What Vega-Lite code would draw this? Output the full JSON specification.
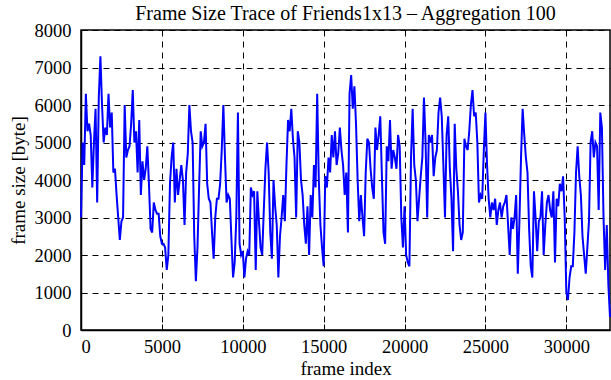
{
  "$schema": "https://vega.github.io/schema/vega-lite/v6.json",
  "width": 529,
  "height": 300,
  "autosize": {"type": "none"},
  "padding": {"left": 81, "top": 30, "right": 1, "bottom": 50},
  "background": "white",
  "title": {"text": "Frame Size Trace of Friends1x13 – Aggregation 100", "font": "Liberation Serif", "fontSize": 20, "fontWeight": "normal", "color": "black", "offset": -3, "frame": "group"},
  "config": {
    "view": {"stroke": "black", "strokeWidth": 1.5},
    "axis": {
      "grid": true, "gridColor": "black", "gridDash": [6, 5], "gridWidth": 1, "gridOpacity": 1,
      "domainColor": "black", "domainWidth": 1.5,
      "tickColor": "black", "tickSize": -6, "tickWidth": 1,
      "labelFont": "Liberation Serif", "labelFontSize": 18.5, "labelColor": "black",
      "titleFont": "Liberation Serif", "titleFontSize": 19, "titleFontWeight": "normal", "titleColor": "black"
    }
  },
  "data": {"values": [
    {"frame":0,"size":3000},{"frame":100,"size":5000},{"frame":200,"size":4400},{"frame":300,"size":6300},{"frame":400,"size":5300},{"frame":500,"size":5500},{"frame":600,"size":5200},{"frame":700,"size":3800},{"frame":800,"size":5000},{"frame":900,"size":5900},
    {"frame":1000,"size":3400},{"frame":1100,"size":6200},{"frame":1200,"size":7300},{"frame":1300,"size":6000},{"frame":1400,"size":5000},{"frame":1500,"size":5400},{"frame":1600,"size":5200},{"frame":1700,"size":6300},{"frame":1800,"size":5400},{"frame":1900,"size":5800},
    {"frame":2000,"size":4200},{"frame":2100,"size":4300},{"frame":2200,"size":3600},{"frame":2300,"size":3000},{"frame":2400,"size":2400},{"frame":2500,"size":2900},{"frame":2600,"size":3000},{"frame":2700,"size":6000},{"frame":2800,"size":4600},{"frame":2900,"size":4800},
    {"frame":3000,"size":4900},{"frame":3100,"size":5500},{"frame":3200,"size":6400},{"frame":3300,"size":5000},{"frame":3400,"size":5300},{"frame":3500,"size":4200},{"frame":3600,"size":5600},{"frame":3700,"size":3600},{"frame":3800,"size":4500},{"frame":3900,"size":4000},
    {"frame":4000,"size":4300},{"frame":4100,"size":4900},{"frame":4200,"size":3900},{"frame":4300,"size":2700},{"frame":4400,"size":2600},{"frame":4500,"size":3400},{"frame":4600,"size":3200},{"frame":4700,"size":3100},{"frame":4800,"size":3100},{"frame":4900,"size":2500},
    {"frame":5000,"size":2300},{"frame":5100,"size":2300},{"frame":5200,"size":2200},{"frame":5300,"size":1600},{"frame":5400,"size":2000},{"frame":5500,"size":3900},{"frame":5600,"size":4600},{"frame":5700,"size":5000},{"frame":5800,"size":3400},{"frame":5900,"size":4300},
    {"frame":6000,"size":3600},{"frame":6100,"size":4000},{"frame":6200,"size":4400},{"frame":6300,"size":4000},{"frame":6400,"size":2800},{"frame":6500,"size":4200},{"frame":6600,"size":4700},{"frame":6700,"size":6000},{"frame":6800,"size":5300},{"frame":6900,"size":5000},
    {"frame":7000,"size":2500},{"frame":7100,"size":1300},{"frame":7200,"size":2200},{"frame":7300,"size":3800},{"frame":7400,"size":5300},{"frame":7500,"size":4900},{"frame":7600,"size":5000},{"frame":7700,"size":5500},{"frame":7800,"size":3900},{"frame":7900,"size":3500},
    {"frame":8000,"size":3400},{"frame":8100,"size":2600},{"frame":8200,"size":1900},{"frame":8300,"size":3000},{"frame":8400,"size":3500},{"frame":8500,"size":3500},{"frame":8600,"size":3900},{"frame":8700,"size":4800},{"frame":8800,"size":6000},{"frame":8900,"size":4600},
    {"frame":9000,"size":3400},{"frame":9100,"size":3600},{"frame":9200,"size":3500},{"frame":9300,"size":2400},{"frame":9400,"size":1400},{"frame":9500,"size":1800},{"frame":9600,"size":3000},{"frame":9700,"size":5800},{"frame":9800,"size":2300},{"frame":9900,"size":2000},
    {"frame":10000,"size":2100},{"frame":10100,"size":1400},{"frame":10200,"size":1900},{"frame":10300,"size":2100},{"frame":10400,"size":2000},{"frame":10500,"size":3800},{"frame":10600,"size":3600},{"frame":10700,"size":3700},{"frame":10800,"size":1600},{"frame":10900,"size":3700},
    {"frame":11000,"size":2900},{"frame":11100,"size":2200},{"frame":11200,"size":2000},{"frame":11300,"size":3200},{"frame":11400,"size":4300},{"frame":11500,"size":5000},{"frame":11600,"size":4200},{"frame":11700,"size":2600},{"frame":11800,"size":1900},{"frame":11900,"size":4000},
    {"frame":12000,"size":3300},{"frame":12100,"size":2800},{"frame":12200,"size":1400},{"frame":12300,"size":2500},{"frame":12400,"size":3000},{"frame":12500,"size":3600},{"frame":12600,"size":2900},{"frame":12700,"size":4400},{"frame":12800,"size":5600},{"frame":12900,"size":5300},
    {"frame":13000,"size":5900},{"frame":13100,"size":5100},{"frame":13200,"size":4600},{"frame":13300,"size":3000},{"frame":13400,"size":5300},{"frame":13500,"size":5000},{"frame":13600,"size":4000},{"frame":13700,"size":3600},{"frame":13800,"size":2800},{"frame":13900,"size":2300},
    {"frame":14000,"size":3300},{"frame":14100,"size":2000},{"frame":14200,"size":3600},{"frame":14300,"size":3000},{"frame":14400,"size":4400},{"frame":14500,"size":3800},{"frame":14600,"size":6300},{"frame":14700,"size":4000},{"frame":14800,"size":2800},{"frame":14900,"size":2200},
    {"frame":15000,"size":1700},{"frame":15100,"size":4100},{"frame":15200,"size":3800},{"frame":15300,"size":4600},{"frame":15400,"size":4200},{"frame":15500,"size":5200},{"frame":15600,"size":4600},{"frame":15700,"size":5300},{"frame":15800,"size":4400},{"frame":15900,"size":4700},
    {"frame":16000,"size":5400},{"frame":16100,"size":4800},{"frame":16200,"size":4400},{"frame":16300,"size":3600},{"frame":16400,"size":4200},{"frame":16500,"size":2600},{"frame":16600,"size":6300},{"frame":16700,"size":6800},{"frame":16800,"size":5900},{"frame":16900,"size":6500},
    {"frame":17000,"size":5500},{"frame":17100,"size":4000},{"frame":17200,"size":2900},{"frame":17300,"size":3600},{"frame":17400,"size":3000},{"frame":17500,"size":2500},{"frame":17600,"size":4200},{"frame":17700,"size":5100},{"frame":17800,"size":5000},{"frame":17900,"size":4300},
    {"frame":18000,"size":3800},{"frame":18100,"size":3500},{"frame":18200,"size":5400},{"frame":18300,"size":4800},{"frame":18400,"size":5200},{"frame":18500,"size":5700},{"frame":18600,"size":4100},{"frame":18700,"size":2600},{"frame":18800,"size":2300},{"frame":18900,"size":4900},
    {"frame":19000,"size":4500},{"frame":19100,"size":5600},{"frame":19200,"size":4300},{"frame":19300,"size":4800},{"frame":19400,"size":4600},{"frame":19500,"size":4300},{"frame":19600,"size":5200},{"frame":19700,"size":4900},{"frame":19800,"size":3000},{"frame":19900,"size":2200},
    {"frame":20000,"size":3300},{"frame":20100,"size":2000},{"frame":20200,"size":1800},{"frame":20300,"size":1700},{"frame":20400,"size":4600},{"frame":20500,"size":5900},{"frame":20600,"size":4400},{"frame":20700,"size":4000},{"frame":20800,"size":2900},{"frame":20900,"size":3500},
    {"frame":21000,"size":4100},{"frame":21100,"size":4600},{"frame":21200,"size":6200},{"frame":21300,"size":5000},{"frame":21400,"size":3000},{"frame":21500,"size":5200},{"frame":21600,"size":5000},{"frame":21700,"size":5200},{"frame":21800,"size":4100},{"frame":21900,"size":4600},
    {"frame":22000,"size":4800},{"frame":22100,"size":5800},{"frame":22200,"size":6200},{"frame":22300,"size":5700},{"frame":22400,"size":4400},{"frame":22500,"size":3000},{"frame":22600,"size":5200},{"frame":22700,"size":5700},{"frame":22800,"size":4300},{"frame":22900,"size":3500},
    {"frame":23000,"size":2100},{"frame":23100,"size":5500},{"frame":23200,"size":4300},{"frame":23300,"size":3700},{"frame":23400,"size":2800},{"frame":23500,"size":2400},{"frame":23600,"size":2600},{"frame":23700,"size":5100},{"frame":23800,"size":4900},{"frame":23900,"size":4800},
    {"frame":24000,"size":5300},{"frame":24100,"size":6000},{"frame":24200,"size":6400},{"frame":24300,"size":5700},{"frame":24400,"size":5800},{"frame":24500,"size":5000},{"frame":24600,"size":3400},{"frame":24700,"size":3600},{"frame":24800,"size":3500},{"frame":24900,"size":4800},
    {"frame":25000,"size":5800},{"frame":25100,"size":4400},{"frame":25200,"size":3500},{"frame":25300,"size":3000},{"frame":25400,"size":3400},{"frame":25500,"size":3200},{"frame":25600,"size":3500},{"frame":25700,"size":2800},{"frame":25800,"size":3200},{"frame":25900,"size":3400},
    {"frame":26000,"size":3000},{"frame":26100,"size":3300},{"frame":26200,"size":3400},{"frame":26300,"size":3600},{"frame":26400,"size":2800},{"frame":26500,"size":2000},{"frame":26600,"size":3000},{"frame":26700,"size":2700},{"frame":26800,"size":3000},{"frame":26900,"size":3600},
    {"frame":27000,"size":1500},{"frame":27100,"size":2900},{"frame":27200,"size":4600},{"frame":27300,"size":5900},{"frame":27400,"size":5200},{"frame":27500,"size":4600},{"frame":27600,"size":4200},{"frame":27700,"size":2700},{"frame":27800,"size":1700},{"frame":27900,"size":1400},
    {"frame":28000,"size":3700},{"frame":28100,"size":3000},{"frame":28200,"size":2100},{"frame":28300,"size":2900},{"frame":28400,"size":3000},{"frame":28500,"size":3700},{"frame":28600,"size":2000},{"frame":28700,"size":2800},{"frame":28800,"size":3400},{"frame":28900,"size":3600},
    {"frame":29000,"size":3200},{"frame":29100,"size":3000},{"frame":29200,"size":3700},{"frame":29300,"size":1800},{"frame":29400,"size":3500},{"frame":29500,"size":3300},{"frame":29600,"size":3900},{"frame":29700,"size":3700},{"frame":29800,"size":4100},{"frame":29900,"size":3000},
    {"frame":30000,"size":1000},{"frame":30100,"size":800},{"frame":30200,"size":1400},{"frame":30300,"size":1700},{"frame":30400,"size":1700},{"frame":30500,"size":2600},{"frame":30600,"size":4200},{"frame":30700,"size":4900},{"frame":30800,"size":4100},{"frame":30900,"size":3600},
    {"frame":31000,"size":2500},{"frame":31100,"size":2000},{"frame":31200,"size":1500},{"frame":31300,"size":2200},{"frame":31400,"size":2900},{"frame":31500,"size":5000},{"frame":31600,"size":5300},{"frame":31700,"size":4600},{"frame":31800,"size":5000},{"frame":31900,"size":4900},
    {"frame":32000,"size":3200},{"frame":32100,"size":5800},{"frame":32200,"size":5400},{"frame":32300,"size":3000},{"frame":32400,"size":1600},{"frame":32500,"size":2800},{"frame":32600,"size":1200},{"frame":32700,"size":350}
  ]},
  "mark": {"type": "line", "color": "#0000ff", "strokeWidth": 2},
  "encoding": {
    "x": {"field": "frame", "type": "quantitative", "scale": {"domain": [0, 32700], "nice": false, "zero": false},
      "axis": {"title": "frame index", "values": [0, 5000, 10000, 15000, 20000, 25000, 30000], "format": "d", "labelPadding": 13, "titlePadding": 4}},
    "y": {"field": "size", "type": "quantitative", "scale": {"domain": [0, 8000], "nice": false},
      "axis": {"title": "frame size [byte]", "values": [0, 1000, 2000, 3000, 4000, 5000, 6000, 7000, 8000], "format": "d", "labelPadding": 16, "titlePadding": 6}}
  }
}
